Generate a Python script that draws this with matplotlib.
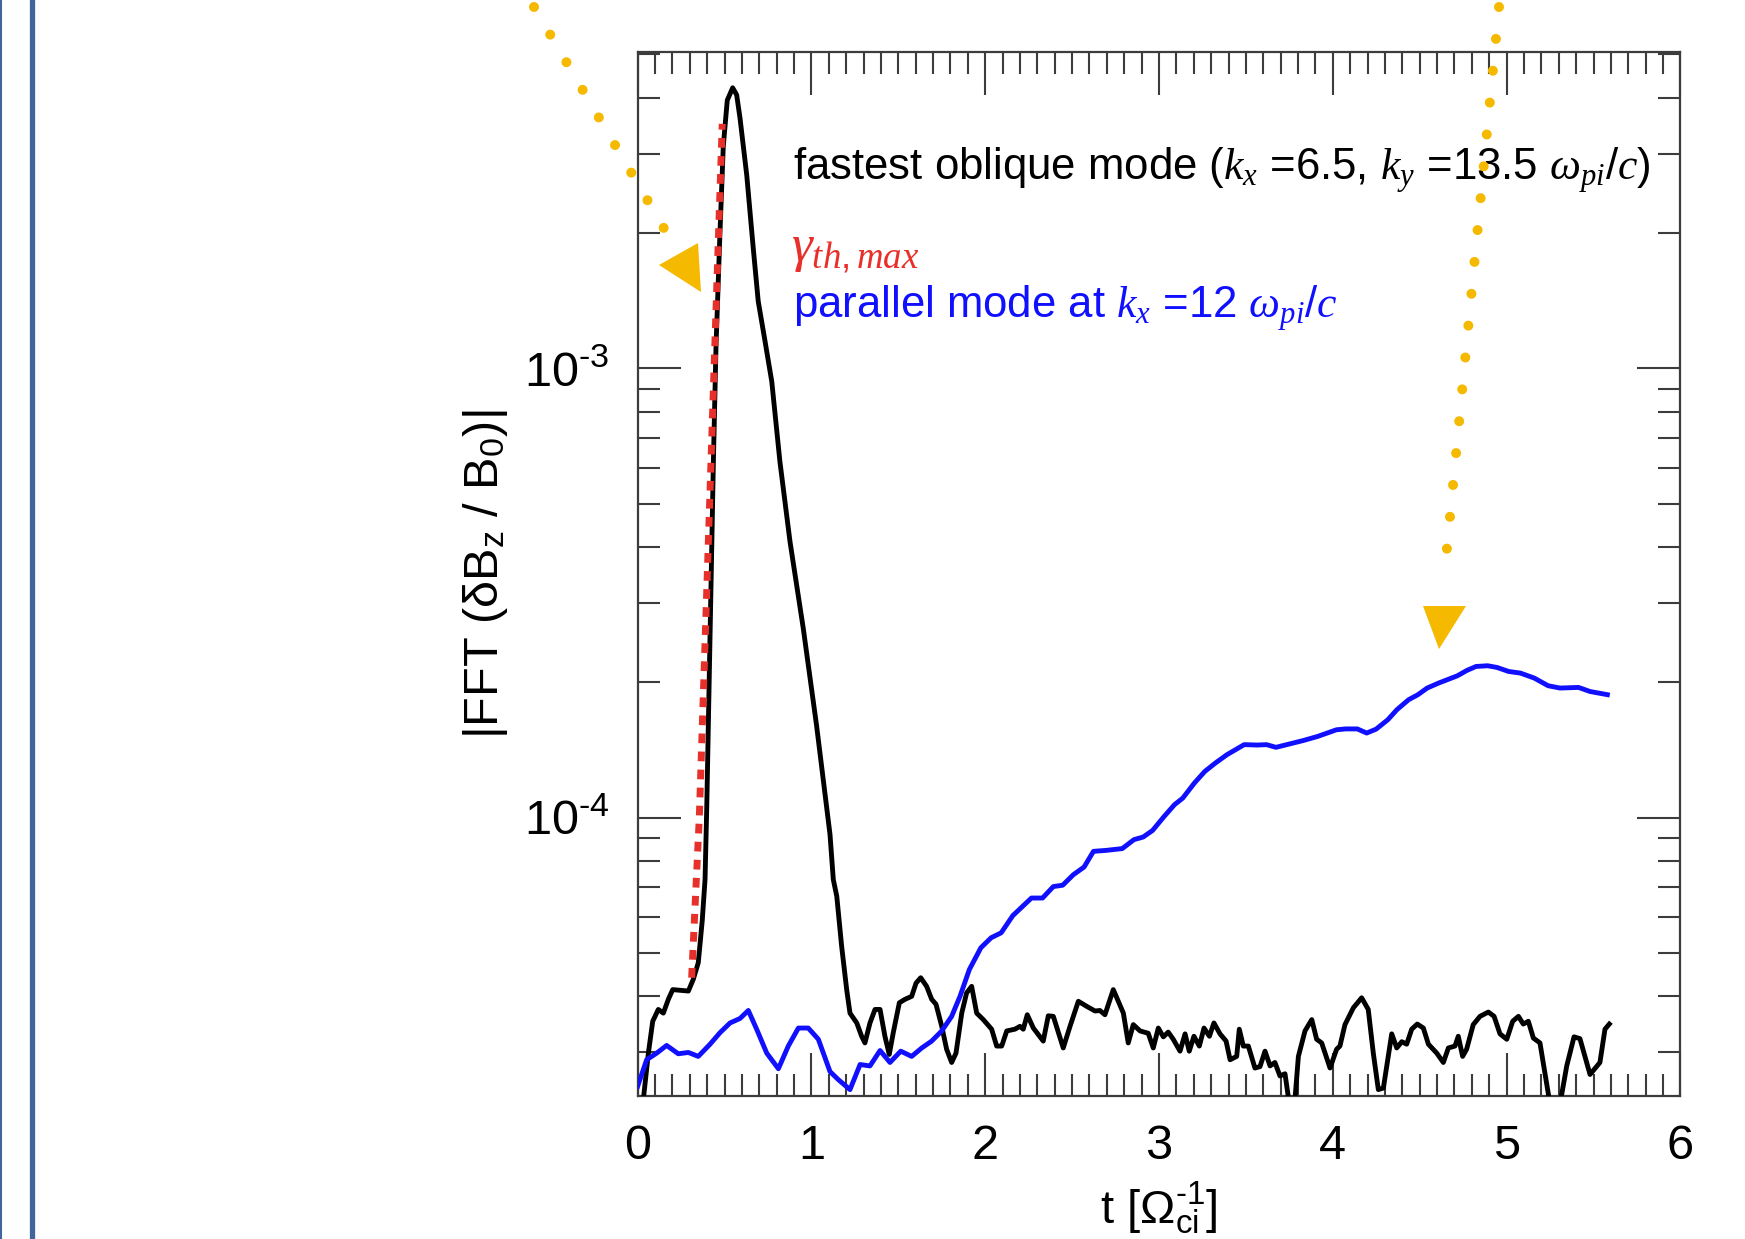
import matplotlib
matplotlib.use("Agg")
import matplotlib.pyplot as plt
from matplotlib.lines import Line2D
from matplotlib.patches import Polygon
from matplotlib.transforms import Affine2D
from matplotlib.ticker import FixedLocator, LogLocator, MultipleLocator, NullFormatter

# ---------- fonts ----------
plt.rcParams["font.family"] = ["Liberation Sans", "DejaVu Sans"]
plt.rcParams["mathtext.fontset"] = "custom"
plt.rcParams["mathtext.rm"] = "Liberation Sans"
plt.rcParams["mathtext.it"] = "Liberation Serif:italic"
plt.rcParams["mathtext.bf"] = "Liberation Sans:bold"

# ---------- data ----------
# fastest oblique mode (kx=6.5, ky=13.5)
t_oblique = [0.030, 0.062, 0.087, 0.119, 0.148, 0.177, 0.202, 0.292, 0.320, 0.349,
             0.372, 0.388, 0.398, 0.417, 0.436, 0.451, 0.474, 0.493, 0.516, 0.547,
             0.570, 0.589, 0.628, 0.666, 0.694, 0.733, 0.772, 0.819, 0.877, 0.953,
             1.030, 1.107, 1.126, 1.146, 1.174, 1.203, 1.222, 1.261, 1.289, 1.308,
             1.337, 1.366, 1.395, 1.423, 1.448, 1.471, 1.506, 1.539, 1.577, 1.602,
             1.629, 1.663, 1.692, 1.717, 1.750, 1.778, 1.807, 1.832, 1.865, 1.893,
             1.922, 1.951, 1.989, 2.037, 2.066, 2.095, 2.124, 2.171, 2.200, 2.219,
             2.242, 2.277, 2.334, 2.363, 2.392, 2.449, 2.488, 2.536, 2.584, 2.632,
             2.660, 2.689, 2.737, 2.795, 2.823, 2.852, 2.891, 2.938, 2.967, 2.996,
             3.025, 3.053, 3.082, 3.121, 3.150, 3.174, 3.201, 3.232, 3.259, 3.290,
             3.316, 3.351, 3.386, 3.409, 3.447, 3.462, 3.485, 3.514, 3.552, 3.581,
             3.610, 3.639, 3.667, 3.696, 3.725, 3.750, 3.780, 3.802, 3.840, 3.879,
             3.907, 3.936, 3.984, 4.022, 4.041, 4.070, 4.118, 4.166, 4.204, 4.233,
             4.262, 4.291, 4.339, 4.368, 4.397, 4.425, 4.454, 4.486, 4.521, 4.550,
             4.598, 4.636, 4.665, 4.703, 4.722, 4.747, 4.770, 4.808, 4.847, 4.895,
             4.928, 4.962, 5.001, 5.035, 5.068, 5.096, 5.125, 5.154, 5.192, 5.250,
             5.307, 5.346, 5.388, 5.422, 5.480, 5.537, 5.566, 5.591]
b_oblique = [2.3e-5, 2.99e-5, 3.52e-5, 3.74e-5, 3.67e-5, 3.94e-5, 4.14e-5, 4.11e-5, 4.36e-5, 4.75e-5,
             5.9e-5, 7.28e-5, 1.06e-4, 2.56e-4, 6.19e-4, 1.115e-3, 2.01e-3, 3.12e-3, 3.95e-3, 4.21e-3,
             4.06e-3, 3.61e-3, 2.69e-3, 1.84e-3, 1.41e-3, 1.15e-3, 9.34e-4, 6.19e-4, 4.11e-4, 2.64e-4,
             1.60e-4, 9.17e-5, 7.28e-5, 6.68e-5, 5.17e-5, 4.14e-5, 3.67e-5, 3.49e-5, 3.26e-5, 3.15e-5,
             3.49e-5, 3.74e-5, 3.74e-5, 3.26e-5, 2.97e-5, 3.32e-5, 3.87e-5, 3.94e-5, 4.00e-5, 4.28e-5,
             4.40e-5, 4.21e-5, 3.94e-5, 3.84e-5, 3.43e-5, 3.05e-5, 2.85e-5, 2.99e-5, 3.67e-5, 4.07e-5,
             4.21e-5, 3.67e-5, 3.55e-5, 3.38e-5, 3.10e-5, 3.10e-5, 3.35e-5, 3.38e-5, 3.43e-5, 3.38e-5,
             3.64e-5, 3.40e-5, 3.18e-5, 3.62e-5, 3.61e-5, 3.07e-5, 3.43e-5, 3.90e-5, 3.80e-5, 3.71e-5,
             3.72e-5, 3.64e-5, 4.14e-5, 3.67e-5, 3.15e-5, 3.46e-5, 3.35e-5, 3.31e-5, 3.07e-5, 3.40e-5,
             3.25e-5, 3.33e-5, 3.21e-5, 3.02e-5, 3.30e-5, 3.02e-5, 3.26e-5, 3.10e-5, 3.40e-5, 3.26e-5,
             3.49e-5, 3.30e-5, 3.18e-5, 2.89e-5, 2.94e-5, 3.38e-5, 3.10e-5, 3.10e-5, 2.77e-5, 2.79e-5,
             3.02e-5, 2.80e-5, 2.85e-5, 2.66e-5, 2.69e-5, 2.3e-5, 2.3e-5, 2.94e-5, 3.35e-5, 3.55e-5,
             3.21e-5, 3.15e-5, 2.77e-5, 3.05e-5, 3.10e-5, 3.46e-5, 3.77e-5, 3.97e-5, 3.74e-5, 2.99e-5,
             2.48e-5, 2.50e-5, 3.30e-5, 3.07e-5, 3.17e-5, 3.13e-5, 3.38e-5, 3.47e-5, 3.40e-5, 3.13e-5,
             2.99e-5, 2.85e-5, 3.07e-5, 3.10e-5, 3.26e-5, 2.94e-5, 3.05e-5, 3.46e-5, 3.61e-5, 3.69e-5,
             3.61e-5, 3.30e-5, 3.21e-5, 3.52e-5, 3.61e-5, 3.47e-5, 3.52e-5, 3.23e-5, 3.15e-5, 2.3e-5,
             2.3e-5, 2.80e-5, 3.25e-5, 3.22e-5, 2.68e-5, 2.85e-5, 3.38e-5, 3.47e-5]

# parallel mode at kx=12
t_parallel = [0.000, 0.052, 0.110, 0.167, 0.234, 0.292, 0.349, 0.417, 0.474, 0.532,
              0.589, 0.637, 0.685, 0.743, 0.810, 0.867, 0.925, 0.982, 1.040, 1.107,
              1.155, 1.222, 1.280, 1.337, 1.395, 1.452, 1.514, 1.577, 1.635, 1.692,
              1.750, 1.807, 1.855, 1.909, 1.975, 2.034, 2.092, 2.159, 2.266, 2.330,
              2.392, 2.446, 2.507, 2.569, 2.623, 2.695, 2.789, 2.856, 2.909, 2.963,
              3.030, 3.089, 3.137, 3.204, 3.264, 3.324, 3.391, 3.490, 3.566, 3.619,
              3.673, 3.726, 3.833, 3.914, 4.021, 4.074, 4.141, 4.195, 4.249, 4.316,
              4.369, 4.436, 4.490, 4.543, 4.610, 4.717, 4.771, 4.824, 4.891, 4.945,
              5.012, 5.079, 5.159, 5.239, 5.307, 5.414, 5.480, 5.580]
b_parallel = [2.52e-5, 2.89e-5, 2.99e-5, 3.11e-5, 2.98e-5, 3.00e-5, 2.94e-5, 3.13e-5, 3.32e-5, 3.49e-5,
              3.57e-5, 3.72e-5, 3.38e-5, 2.99e-5, 2.76e-5, 3.10e-5, 3.40e-5, 3.40e-5, 3.21e-5, 2.72e-5,
              2.61e-5, 2.48e-5, 2.82e-5, 2.80e-5, 3.03e-5, 2.85e-5, 3.02e-5, 2.94e-5, 3.07e-5, 3.18e-5,
              3.35e-5, 3.61e-5, 4.00e-5, 4.59e-5, 5.13e-5, 5.40e-5, 5.54e-5, 6.05e-5, 6.62e-5, 6.62e-5,
              7.02e-5, 7.07e-5, 7.46e-5, 7.76e-5, 8.41e-5, 8.45e-5, 8.53e-5, 8.93e-5, 9.05e-5, 9.36e-5,
              1.006e-4, 1.068e-4, 1.105e-4, 1.194e-4, 1.267e-4, 1.322e-4, 1.380e-4, 1.453e-4, 1.45e-4, 1.453e-4,
              1.433e-4, 1.45e-4, 1.485e-4, 1.516e-4, 1.568e-4, 1.575e-4, 1.575e-4, 1.542e-4, 1.573e-4, 1.650e-4,
              1.738e-4, 1.829e-4, 1.877e-4, 1.942e-4, 1.993e-4, 2.068e-4, 2.125e-4, 2.169e-4, 2.177e-4, 2.158e-4,
              2.114e-4, 2.097e-4, 2.044e-4, 1.965e-4, 1.942e-4, 1.948e-4, 1.908e-4, 1.877e-4]

# theoretical max growth rate fit
t_gamma = [0.311, 0.355, 0.440, 0.487]
b_gamma = [4.4e-5, 1.0e-4, 1.0e-3, 3.5e-3]

x_ticks = [0, 1, 2, 3, 4, 5, 6]
y_ticks = [1e-4, 1e-3]
y_ticklabels = [r"$\mathregular{10^{\text{-}4}}$", r"$\mathregular{10^{\text{-}3}}$"]

# orange call-out arrows (figure pixels, measured from top-left)
arrow1_x, arrow1_y = [534, 679], [7, 254]
arrow1_head = [(659, 265), (698, 243), (701, 292)]
arrow2_x, arrow2_y = [1499, 1444], [7, 579]
arrow2_head = [(1423, 606), (1466, 606), (1439, 649)]

BLACK, BLUE, RED, ORANGE = "#000000", "#1010ff", "#e8302a", "#f5b900"
FRAME = "#3c3c3c"
BORDER = "#41669b"

# ---------- figure ----------
W, H = 1745, 1239
fig = plt.figure(figsize=(W / 100, H / 100), dpi=100)
ax = fig.add_axes([637.6 / W, 1 - 1096 / H, 1042.8 / W, 1043.7 / H])

ax.plot(t_oblique, b_oblique, color=BLACK, lw=3.5, solid_joinstyle="round", zorder=3)
ax.plot(t_parallel, b_parallel, color=BLUE, lw=3.5, solid_joinstyle="round", zorder=3)
ax.plot(t_gamma, b_gamma, color=RED, lw=5.0, linestyle=(0, (1.4, 1.2)), zorder=4)

ax.set_yscale("log")
ax.set_xlim(0, 6)
ax.set_ylim(2.4e-5, 5.05e-3)

ax.xaxis.set_major_locator(FixedLocator(x_ticks))
ax.xaxis.set_minor_locator(MultipleLocator(0.1))
ax.yaxis.set_major_locator(FixedLocator(y_ticks))
ax.yaxis.set_major_formatter(plt.FixedFormatter(y_ticklabels))
ax.yaxis.set_minor_locator(LogLocator(base=10, subs=range(2, 10)))
ax.yaxis.set_minor_formatter(NullFormatter())

ax.tick_params(which="both", direction="in", top=True, right=True, color=FRAME, width=1.5)
ax.tick_params(which="major", length=31, pad=20, labelsize=35)
ax.tick_params(which="minor", length=15.5)
for s in ax.spines.values():
    s.set_color(FRAME)
    s.set_linewidth(1.6)

ax.set_xlabel(r"t [Ω$_{\mathrm{ci}}^{\text{-}1}$]", fontsize=34, labelpad=8)
ax.set_ylabel(r"|FFT (δB$_{\mathrm{z}}$ / B$_{0}$)|", fontsize=35, labelpad=10)

# annotations
ax.text(0.149, 0.8777, r"fastest oblique mode ($k_x$ =6.5, $k_y$ =13.5 $\omega_{pi}/c$)",
        transform=ax.transAxes, fontsize=31.5, color=BLACK, va="baseline")
ax.text(0.147, 0.800, r"$\gamma_{th,max}$",
        transform=ax.transAxes, fontsize=38, color=RED, va="baseline")
ax.text(0.149, 0.7451, r"parallel mode at $k_x$ =12 $\omega_{pi}/c$",
        transform=ax.transAxes, fontsize=31.5, color=BLUE, va="baseline")

# ---------- slide decorations ----------
px = Affine2D().scale(1 / W, -1 / H).translate(0, 1) + fig.transFigure
fig.add_artist(Line2D([1, 1], [0, H], transform=px, color=BORDER, lw=1.5))
fig.add_artist(Line2D([32.5, 32.5], [0, H], transform=px, color=BORDER, lw=3.8))

for xs, ys, head in [(arrow1_x, arrow1_y, arrow1_head), (arrow2_x, arrow2_y, arrow2_head)]:
    fig.add_artist(Line2D(xs, ys, transform=px, color=ORANGE, lw=7.2,
                          linestyle=(0, (0.001, 3.2)), dash_capstyle="round", zorder=6))
    fig.add_artist(Polygon(head, closed=True, transform=px, facecolor=ORANGE,
                           edgecolor="none", zorder=6))

fig.savefig("out.png", dpi=100)
